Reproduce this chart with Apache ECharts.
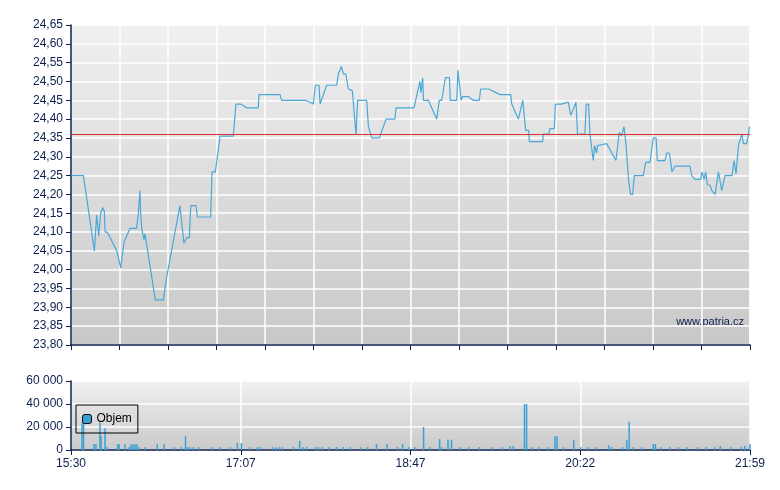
<!DOCTYPE html>
<html><head><meta charset="utf-8">
<script src="https://cdn.jsdelivr.net/npm/echarts@6/dist/echarts.min.js"></script>
<style>html,body{margin:0;background:#fff}#c{width:780px;height:490px}</style>
</head><body><div id="c"></div>
<script>
// minutes after 15:30
const priceMin=[0,7.1,13.4,14.1,14.7,15.9,17.0,18.1,19.1,19.5,20.8,26.2,27.1,28.5,30.4,31.5,33.8,37.6,38.6,39.5,39.9,40.5,41.8,42.4,48.3,52.9,54.8,62.4,64.7,65.5,66.3,67.8,68.6,71.6,72.4,80.0,80.8,82.7,85.4,93.0,94.1,94.5,97.2,100.6,107.3,107.7,119.7,120.7,134.4,135.4,136.9,138.8,140.0,142.1,142.7,143.8,146.5,152.2,153.2,154.1,154.9,156.0,157.4,158.9,161.2,161.8,163.3,164.2,169.4,170.4,172.3,176.6,180.5,185.6,186.2,196.5,199.9,200.5,201.5,201.9,204.7,209.5,211.0,212.4,214.5,216.8,217.3,221.0,221.7,223.5,224.4,227.6,230.5,233.9,234.7,239.3,245.8,251.9,252.5,256.3,258.8,259.5,260.5,262.2,262.6,270.2,270.6,273.7,274.4,276.9,277.5,281.1,284.9,286.3,289.3,290.2,294.4,295.2,296.5,297.3,298.3,299.2,300.0,301.1,301.7,306.9,312.2,314.1,315.3,316.8,318.0,319.5,320.6,321.8,322.7,327.9,329.2,331.7,333.6,335.2,335.9,340.3,341.3,342.8,344.3,346.0,354.6,355.6,357.5,360.8,361.5,362.7,363.6,364.6,366.1,367.1,369.0,370.9,372.8,374.7,378.7,379.9,381.0,382.4,383.3,384.3,385.2,386.2,387.1,388.1,388.7];
const priceVal=[24.25,24.25,24.05,24.05,24.145,24.09,24.15,24.165,24.155,24.10,24.10,24.05,24.05,24.005,24.075,24.085,24.11,24.11,24.15,24.21,24.15,24.11,24.08,24.095,23.92,23.92,23.98,24.17,24.07,24.07,24.085,24.085,24.17,24.17,24.14,24.14,24.26,24.26,24.355,24.355,24.35,24.44,24.44,24.43,24.43,24.465,24.465,24.45,24.45,24.455,24.445,24.44,24.49,24.49,24.44,24.44,24.49,24.49,24.52,24.52,24.54,24.52,24.52,24.48,24.475,24.44,24.36,24.45,24.45,24.38,24.35,24.35,24.40,24.40,24.43,24.43,24.50,24.47,24.51,24.45,24.45,24.40,24.45,24.45,24.51,24.51,24.45,24.45,24.53,24.45,24.46,24.46,24.45,24.45,24.48,24.48,24.465,24.465,24.44,24.40,24.45,24.45,24.37,24.37,24.34,24.34,24.36,24.36,24.375,24.375,24.44,24.44,24.445,24.41,24.445,24.36,24.36,24.44,24.44,24.36,24.355,24.29,24.33,24.31,24.33,24.335,24.29,24.365,24.355,24.38,24.33,24.235,24.20,24.20,24.25,24.25,24.285,24.285,24.35,24.35,24.29,24.29,24.31,24.31,24.26,24.275,24.275,24.25,24.24,24.24,24.26,24.24,24.26,24.225,24.225,24.21,24.20,24.26,24.21,24.25,24.25,24.29,24.255,24.33,24.335,24.36,24.335,24.34,24.335,24.36,24.38];
const volMin=[6.3,7.2,13.2,14.3,16.6,17.2,19.5,20.6,26.7,27.6,31.0,33.3,34.4,35.5,36.7,37.8,39.0,42.4,49.4,53.4,59.2,63.2,65.6,66.7,68.0,70.0,73.0,81.0,85.2,91.2,95.3,97.6,102.5,106.8,108.5,115.4,117.5,119.2,121.0,127.4,131.0,133.0,135.0,140.0,141.7,144.0,148.0,152.0,156.0,160.0,166.0,170.0,175.0,181.0,187.0,190.0,193.6,197.0,202.0,205.5,211.2,212.4,216.0,218.0,223.0,228.0,234.0,241.0,247.0,251.4,253.4,259.8,261.0,264.0,268.0,273.0,277.3,278.5,282.0,288.0,292.0,296.0,301.0,308.0,309.7,316.0,318.4,319.8,322.0,327.0,333.6,334.8,338.0,343.0,348.0,353.0,359.0,364.0,369.0,372.0,378.0,384.0,386.0,389.0];
const volVal=[24000,24000,5200,5200,24000,12000,19000,2500,5000,5000,5000,2500,5000,5000,5000,5000,2500,2500,5000,5000,2500,2500,12000,2500,2500,2500,2500,2500,2500,2500,6000,6000,2500,2500,2500,2500,2500,2500,2500,2500,8000,2500,2500,2500,2500,2500,2500,2500,2500,2500,2500,2500,5200,5200,2500,5200,2500,2500,20000,2500,9500,2500,9000,9000,2500,2500,2500,2500,2500,3500,3500,40000,40000,2500,2500,2500,12000,12000,2500,9000,2500,2500,2500,4000,2500,2500,9000,24500,2500,2500,5200,5200,2500,2500,2500,2500,2500,2500,2500,3500,2500,2500,3500,5200];
const lowerLabels=['15:30','17:07','18:47','20:22','21:59'];
const refPrice=24.36;

const navy='#0d1f4f';
const FONT='Liberation Sans';
const bgUp=new echarts.graphic.LinearGradient(0,0,0,1,[{offset:0,color:'#f0f0f0'},{offset:1,color:'#c8c8c8'}]);
const bgLo=new echarts.graphic.LinearGradient(0,0,0,1,[{offset:0,color:'#f0f0f0'},{offset:1,color:'#cacaca'}]);
const axisCommon={axisLine:{show:true,onZero:false,lineStyle:{color:navy,width:1.5}},axisTick:{show:true,inside:false,length:5,lineStyle:{color:navy}},splitLine:{show:true,lineStyle:{color:'#ffffff',width:1.5}}};
const chart=echarts.init(document.getElementById('c'),null,{renderer:'canvas'});
chart.setOption({
  animation:false,
  grid:[{left:71,right:30,top:25,height:320,show:true,backgroundColor:bgUp,borderWidth:0},
        {left:71,right:30,top:381,height:69,show:true,backgroundColor:bgLo,borderWidth:0}],
  legend:{data:['Objem'],left:76,top:405,orient:'vertical',borderColor:'#000',borderWidth:1,borderRadius:0,padding:[8,6,8,6],itemWidth:9,itemHeight:9,itemGap:4,
    textStyle:{color:'#000',fontSize:12,fontFamily:FONT},itemStyle:{borderColor:'#000',borderWidth:1}},
  xAxis:[
    Object.assign({type:'value',gridIndex:0,min:0,max:389,interval:389/14,axisLabel:{show:false}},axisCommon),
    Object.assign({type:'value',gridIndex:1,min:0,max:389,interval:389/4,axisLabel:{color:navy,fontSize:12,fontFamily:FONT,
      formatter:(v)=>lowerLabels[Math.round(v/(389/4))]||''}},axisCommon)
  ],
  yAxis:[
    Object.assign({type:'value',gridIndex:0,min:23.8,max:24.65,interval:0.05,axisLabel:{color:navy,fontSize:12,fontFamily:FONT,formatter:v=>v.toFixed(2).replace('.',',')}},axisCommon),
    Object.assign({type:'value',gridIndex:1,min:0,max:60000,interval:20000,axisLabel:{color:navy,fontSize:12,fontFamily:FONT,formatter:v=>v===0?'0':(v/1000)+' 000'}},axisCommon)
  ],
  graphic:[{type:'text',right:36,top:316,style:{text:'www.patria.cz',fill:navy,font:'11px Liberation Sans'}}],
  series:[
    {type:'line',name:'Cena',xAxisIndex:0,yAxisIndex:0,data:priceMin.map((m,i)=>[m,priceVal[i]]),showSymbol:false,
      lineStyle:{color:'#4aa8d8',width:1.2},
      markLine:{silent:true,symbol:'none',label:{show:false},lineStyle:{color:'#e03030',width:1.2,type:'solid'},data:[{yAxis:refPrice}]}},
    {type:'bar',name:'Objem',xAxisIndex:1,yAxisIndex:1,barWidth:1.5,data:volMin.map((m,i)=>[m,volVal[i]]),itemStyle:{color:'#3ba0d4'}}
  ]
});
</script></body></html>
